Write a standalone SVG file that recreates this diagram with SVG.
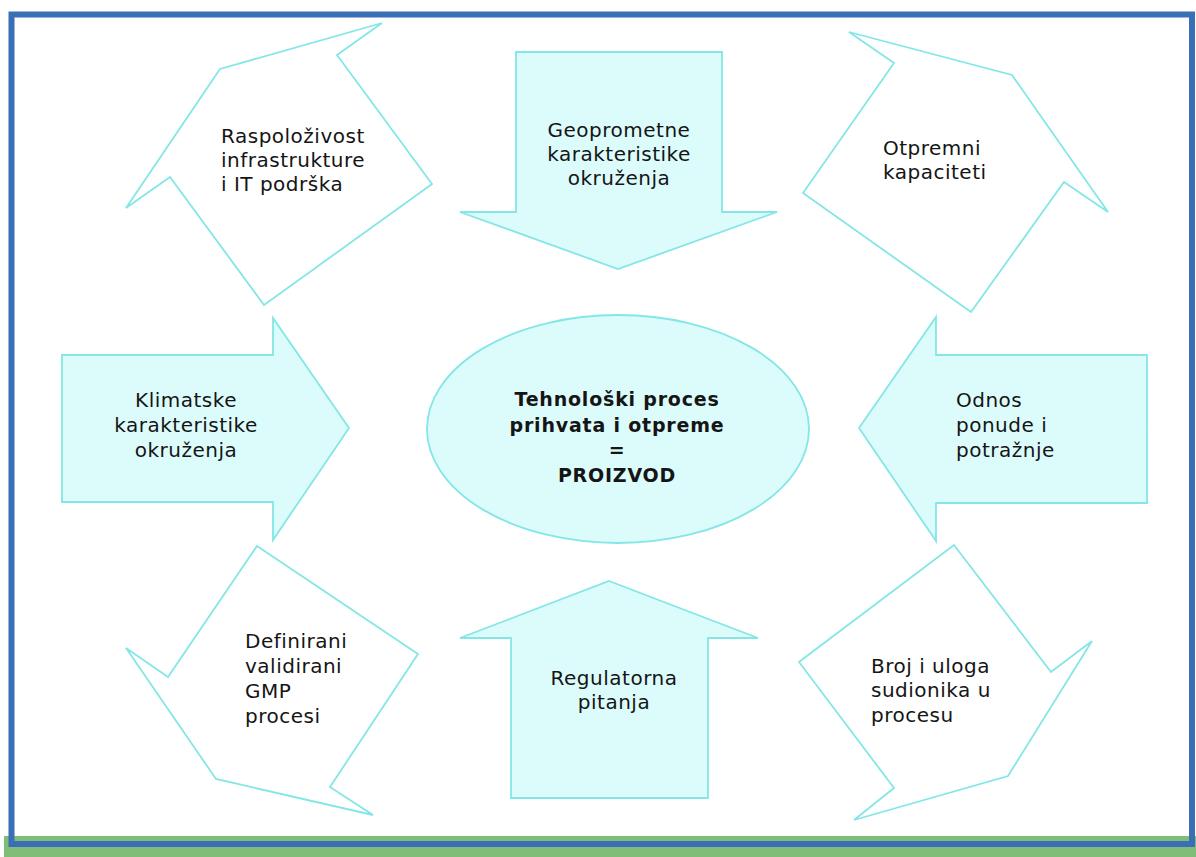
<svg xmlns="http://www.w3.org/2000/svg" width="1196" height="857" viewBox="0 0 1196 857">
<style>
.frame{fill:none;stroke:#3a6fb8;stroke-width:6}
.hollow{fill:#ffffff;stroke:#84e6e6;stroke-width:1.8;stroke-linejoin:miter}
.solid{fill:#dcfcfc;stroke:#84e6e6;stroke-width:1.8;stroke-linejoin:miter}
.lbl{font-family:"DejaVu Sans",Verdana,sans-serif;font-size:20px;letter-spacing:0.5px;fill:#151515}
.mid{text-anchor:middle}
.core{font-family:"DejaVu Sans",Verdana,sans-serif;font-size:19px;font-weight:bold;letter-spacing:0.8px;fill:#151515;text-anchor:middle}
</style>
<rect x="0" y="0" width="1196" height="857" fill="#ffffff"/>
<rect x="4" y="836" width="1192" height="21" fill="#80bd78"/>
<path class="frame" d="M11.5 14.5 H1192 V844 H11.5 Z"/>

<g id="connectors"></g>

<g id="center">
<ellipse cx="618" cy="429" rx="191" ry="114" class="solid"/>
<text class="core" x="617" y="406">Tehnološki proces</text>
<text class="core" x="617" y="432">prihvata i otpreme</text>
<text class="core" x="617" y="457">=</text>
<text class="core" x="617" y="482">PROIZVOD</text>
</g>

<g id="infrastruktura">
<polygon class="hollow" points="382,23 337,55 432,184 264,305 170,177 126,208 220,69"/>
<text class="lbl" x="221" y="143">Raspoloživost</text>
<text class="lbl" x="221" y="167">infrastrukture</text>
<text class="lbl" x="221" y="191">i IT podrška</text>
</g>

<g id="geoprometne">
<polygon class="solid" points="516,52 722,52 722,212 777,212 618,269 460,212 516,212"/>
<text class="lbl mid" x="619" y="137">Geoprometne</text>
<text class="lbl mid" x="619" y="161">karakteristike</text>
<text class="lbl mid" x="619" y="185">okruženja</text>
</g>

<g id="otpremni">
<polygon class="hollow" points="849,32 894,63 803,193 971,312 1064,182 1108,212 1012,75"/>
<text class="lbl" x="883" y="155">Otpremni</text>
<text class="lbl" x="883" y="179">kapaciteti</text>
</g>

<g id="klimatske">
<polygon class="solid" points="62,355 273,355 273,318 349,428 273,540 273,502 62,502"/>
<text class="lbl mid" x="186" y="407">Klimatske</text>
<text class="lbl mid" x="186" y="432">karakteristike</text>
<text class="lbl mid" x="186" y="457">okruženja</text>
</g>

<g id="odnos">
<polygon class="solid" points="859,428 936,317 936,355 1147,355 1147,503 936,503 936,541"/>
<text class="lbl" x="956" y="407">Odnos</text>
<text class="lbl" x="956" y="432">ponude i</text>
<text class="lbl" x="956" y="457">potražnje</text>
</g>

<g id="gmp">
<polygon class="hollow" points="257,546 418,654 330,787 373,815 216,779 126,648 168,677"/>
<text class="lbl" x="245" y="648">Definirani</text>
<text class="lbl" x="245" y="673">validirani</text>
<text class="lbl" x="245" y="698">GMP</text>
<text class="lbl" x="245" y="723">procesi</text>
</g>

<g id="regulatorna">
<polygon class="solid" points="609,581 758,638 708,638 708,798 511,798 511,638 460,638"/>
<text class="lbl mid" x="614" y="685">Regulatorna</text>
<text class="lbl mid" x="614" y="709">pitanja</text>
</g>

<g id="sudionici">
<polygon class="hollow" points="954,545 1051,672 1092,641 1008,776 854,820 894,788 799,662"/>
<text class="lbl" x="871" y="673">Broj i uloga</text>
<text class="lbl" x="871" y="697">sudionika u</text>
<text class="lbl" x="871" y="722">procesu</text>
</g>
</svg>
